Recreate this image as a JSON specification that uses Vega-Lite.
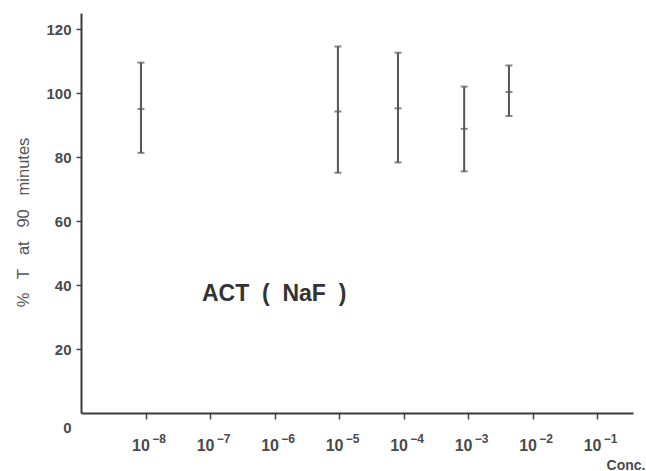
{
  "$schema": "https://vega.github.io/schema/vega-lite/v6.json",
  "width": 552,
  "height": 400,
  "autosize": {"type": "none"},
  "padding": {"left": 81, "top": 13, "right": 13, "bottom": 58},
  "background": "white",
  "config": {
    "view": {"stroke": null},
    "font": "Liberation Sans",
    "axis": {"domainColor": "#3a3a3a", "domainWidth": 2, "tickColor": "#444", "tickWidth": 1.5, "labelColor": "#4a4a4a", "labelFont": "Liberation Sans", "labelFontWeight": "bold", "titleFont": "Liberation Sans", "titleColor": "#555", "grid": false}
  },
  "datasets": {
    "bars": [
      {"conc": 8.5e-9, "mean": 95, "lo": 81.3, "hi": 109.5},
      {"conc": 9.6e-6, "mean": 94.2, "lo": 75.1, "hi": 114.5},
      {"conc": 8.2e-5, "mean": 95.2, "lo": 78.3, "hi": 112.6},
      {"conc": 8.7e-4, "mean": 88.8, "lo": 75.5, "hi": 102},
      {"conc": 4.3e-3, "mean": 100.3, "lo": 92.8, "hi": 108.6}
    ],
    "label": [{"conc": 7.5e-8, "y": 37.3, "text": "ACT\u00a0\u00a0(\u00a0\u00a0NaF\u00a0\u00a0)"}]
  },
  "resolve": {"axis": {"x": "independent"}},
  "layer": [
    {
      "data": {"name": "bars"},
      "mark": {"type": "rule", "color": "#555", "strokeWidth": 2},
      "encoding": {
        "x": {"field": "conc", "type": "quantitative", "scale": {"type": "log", "domain": [1e-9, 0.36], "nice": false},
          "axis": {"orient": "bottom", "values": [1e-8, 1e-7, 1e-6, 1e-5, 1e-4, 1e-3, 1e-2, 1e-1], "tickSize": 6, "labelFontSize": 16, "labelBaseline": "alphabetic", "labelPadding": 31, "labelOffset": -5,
            "labelExpr": "'10'",
            "title": "Conc.", "titleFontSize": 14, "titleFontWeight": "bold", "titleColor": "#4a4a4a", "titleAlign": "right", "titleAnchor": null, "titleX": 564, "titleY": 56, "titleBaseline": "alphabetic"}},
        "y": {"field": "lo", "type": "quantitative", "scale": {"domain": [0, 125], "nice": false},
          "axis": {"values": [0, 20, 40, 60, 80, 100, 120], "tickSize": 5, "labelFontSize": 15, "labelPadding": 5,
            "labelOffset": {"condition": {"test": "datum.value === 0", "value": 14}, "value": 0},
            "tickOpacity": {"condition": {"test": "datum.value === 0", "value": 0}, "value": 1},
            "title": "%\u00a0\u00a0\u00a0T\u00a0\u00a0\u00a0at\u00a0\u00a0\u00a090\u00a0\u00a0\u00a0minutes", "titleFontSize": 16.5, "titleFontWeight": "normal", "titleX": -50, "titleY": 209}},
        "y2": {"field": "hi"}
      }
    },
    {
      "data": {"name": "bars"},
      "mark": {"type": "tick", "color": "#555", "size": 7, "thickness": 2, "orient": "horizontal"},
      "encoding": {
        "x": {"field": "conc", "type": "quantitative",
          "axis": {"orient": "bottom", "values": [1e-8, 1e-7, 1e-6, 1e-5, 1e-4, 1e-3, 1e-2, 1e-1], "domain": false, "ticks": false, "tickSize": 0, "labelFontSize": 12, "labelBaseline": "alphabetic", "labelPadding": 29, "labelOffset": 13,
            "labelExpr": "'−' + round(-log(datum.value)/LN10)", "title": null}},
        "y": {"field": "lo", "type": "quantitative"}
      }
    },
    {
      "data": {"name": "bars"},
      "mark": {"type": "tick", "color": "#555", "size": 7, "thickness": 2, "orient": "horizontal"},
      "encoding": {
        "x": {"field": "conc", "type": "quantitative", "axis": null},
        "y": {"field": "hi", "type": "quantitative"}
      }
    },
    {
      "data": {"name": "bars"},
      "mark": {"type": "tick", "color": "#555", "size": 7, "thickness": 2, "orient": "horizontal"},
      "encoding": {
        "x": {"field": "conc", "type": "quantitative", "axis": null},
        "y": {"field": "mean", "type": "quantitative"}
      }
    },
    {
      "data": {"name": "label"},
      "mark": {"type": "text", "align": "left", "baseline": "middle", "fontSize": 23, "fontWeight": "bold", "color": "#333", "font": "Liberation Sans"},
      "encoding": {
        "x": {"field": "conc", "type": "quantitative", "axis": null},
        "y": {"field": "y", "type": "quantitative"},
        "text": {"field": "text"}
      }
    }
  ]
}
